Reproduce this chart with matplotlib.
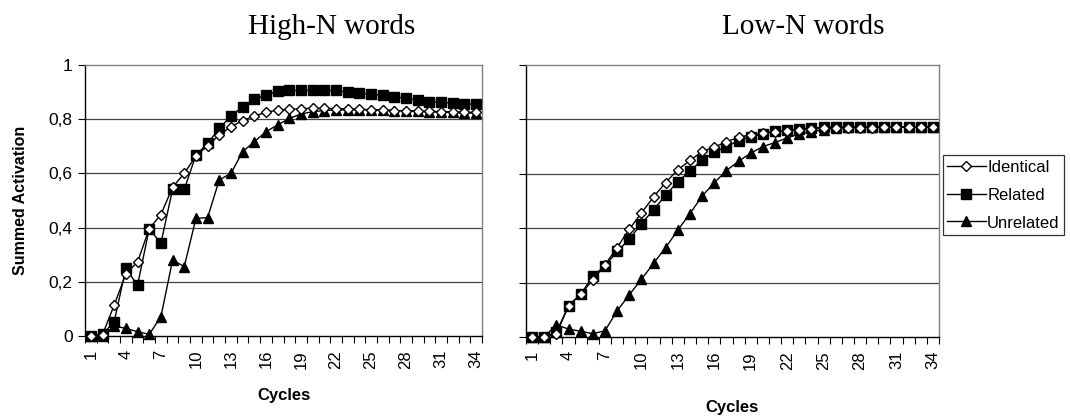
import numpy as np
import matplotlib
matplotlib.use('Agg')
import matplotlib.pyplot as plt

cycles = np.arange(1, 35)
tick_labels = [str(c) for c in range(1, 35, 3)]

high_identical = [0, 0.005, 0.114, 0.229, 0.273, 0.396, 0.448, 0.549, 0.600, 0.664,
                  0.702, 0.742, 0.772, 0.795, 0.812, 0.825, 0.834, 0.836, 0.839, 0.840,
                  0.840, 0.839, 0.838, 0.837, 0.835, 0.834, 0.832, 0.831, 0.830, 0.829,
                  0.828, 0.827, 0.826, 0.825]
high_related = [0, 0.006, 0.053, 0.250, 0.187, 0.396, 0.342, 0.541, 0.541, 0.667,
                0.711, 0.766, 0.812, 0.846, 0.873, 0.889, 0.903, 0.906, 0.906, 0.906,
                0.906, 0.906, 0.900, 0.895, 0.892, 0.888, 0.883, 0.877, 0.871, 0.865,
                0.862, 0.859, 0.857, 0.855]
high_unrelated = [0, 0, 0.037, 0.028, 0.016, 0.006, 0.071, 0.280, 0.256, 0.434,
                  0.437, 0.576, 0.600, 0.680, 0.717, 0.754, 0.779, 0.803, 0.819, 0.828,
                  0.832, 0.834, 0.835, 0.835, 0.834, 0.833, 0.832, 0.830, 0.829, 0.827,
                  0.826, 0.825, 0.824, 0.822]

low_identical = [0, 0, 0.010, 0.115, 0.157, 0.210, 0.265, 0.329, 0.396, 0.456,
                 0.515, 0.568, 0.615, 0.649, 0.682, 0.698, 0.718, 0.734, 0.744, 0.750,
                 0.755, 0.759, 0.762, 0.765, 0.767, 0.768, 0.769, 0.770, 0.770, 0.771,
                 0.771, 0.771, 0.771, 0.771]
low_related = [0, 0, 0.017, 0.115, 0.157, 0.224, 0.261, 0.315, 0.359, 0.417,
               0.467, 0.522, 0.571, 0.610, 0.651, 0.679, 0.700, 0.722, 0.737, 0.746,
               0.756, 0.761, 0.765, 0.768, 0.771, 0.772, 0.772, 0.772, 0.772, 0.772,
               0.772, 0.772, 0.772, 0.772]
low_unrelated = [0, 0, 0.045, 0.029, 0.021, 0.012, 0.023, 0.096, 0.155, 0.212,
                 0.271, 0.329, 0.393, 0.454, 0.518, 0.567, 0.612, 0.646, 0.676, 0.700,
                 0.715, 0.732, 0.746, 0.755, 0.762, 0.768, 0.771, 0.772, 0.772, 0.772,
                 0.772, 0.772, 0.772, 0.772]

W, H = 1070, 418
fig = plt.figure(figsize=(W / 100, H / 100), dpi=100)

def box(x0, y0, x1, y1):
  return [x0 / W, 1 - y1 / H, (x1 - x0) / W, (y1 - y0) / H]

sans = 'Liberation Sans'
serif = 'Liberation Serif'

def draw(ax, ident, rel, unrel, show_ylabels):
  kw = dict(color='black', lw=1.0, clip_on=False, zorder=3)
  ax.plot(cycles, rel, marker='s', ms=6.5, mfc='black', mec='black', label='Related', **kw)
  ax.plot(cycles, unrel, marker='^', ms=7, mfc='black', mec='black', label='Unrelated', **kw)
  ax.plot(cycles, ident, marker='D', ms=5, mfc='white', mec='black', mew=1.0, label='Identical', **kw)
  ax.set_xlim(0.5, 34.5)
  ax.set_ylim(0, 1)
  for v in [0.2, 0.4, 0.6, 0.8]:
    ax.axhline(v, color='#444444', lw=0.9, zorder=1)
  for s in ['top', 'right']:
    ax.spines[s].set_color('#808080')
    ax.spines[s].set_linewidth(1.0)
  for s in ['left', 'bottom']:
    ax.spines[s].set_color('black')
    ax.spines[s].set_linewidth(1.0)
  ax.set_xticks(np.arange(0.5, 35, 1))
  ax.set_xticklabels([])
  ax.set_xticks(np.arange(1, 35, 3), minor=True)
  ax.set_xticklabels(tick_labels, minor=True, rotation=90, fontsize=12, family=sans)
  ax.tick_params(axis='x', which='major', direction='out', length=5, width=0.8)
  ax.tick_params(axis='x', which='minor', length=0, pad=10)
  ax.set_yticks([0, 0.2, 0.4, 0.6, 0.8, 1])
  if show_ylabels:
    ax.set_yticklabels(['0', '0,2', '0,4', '0,6', '0,8', '1'], fontsize=12.5, family=sans)
  else:
    ax.set_yticklabels([])
  ax.tick_params(axis='y', direction='out', length=5, width=0.8, pad=4)

ax1 = fig.add_axes(box(85, 65, 482, 336))
draw(ax1, high_identical, high_related, high_unrelated, True)
ax1.set_xlabel('Cycles', fontsize=12, fontweight='bold', family=sans, labelpad=14)
ax1.set_ylabel('Summed Activation', fontsize=11.5, fontweight='bold', family=sans, labelpad=15)

ax2 = fig.add_axes(box(526, 65, 939, 337))
draw(ax2, low_identical, low_related, low_unrelated, False)
ax2.set_xlabel('Cycles', fontsize=12, fontweight='bold', family=sans, labelpad=22)

fig.text(248 / W, 1 - 34 / H, 'High-N words', fontsize=21, family=serif, ha='left', va='baseline')
fig.text(722 / W, 1 - 34 / H, 'Low-N words', fontsize=21, family=serif, ha='left', va='baseline')

h, l = ax2.get_legend_handles_labels()
order = [2, 0, 1]
leg = fig.legend([h[i] for i in order], [l[i] for i in order],
                 loc='upper left', bbox_to_anchor=(943 / W, 1 - 155 / H),
                 prop={'family': sans, 'size': 12}, frameon=True, fancybox=False,
                 edgecolor='black', borderpad=0.25, handlelength=2.3, handletextpad=0.1,
                 handleheight=1.0, labelspacing=0.7, borderaxespad=0)
leg.get_frame().set_linewidth(0.9)

plt.savefig('out.png', dpi=100)
